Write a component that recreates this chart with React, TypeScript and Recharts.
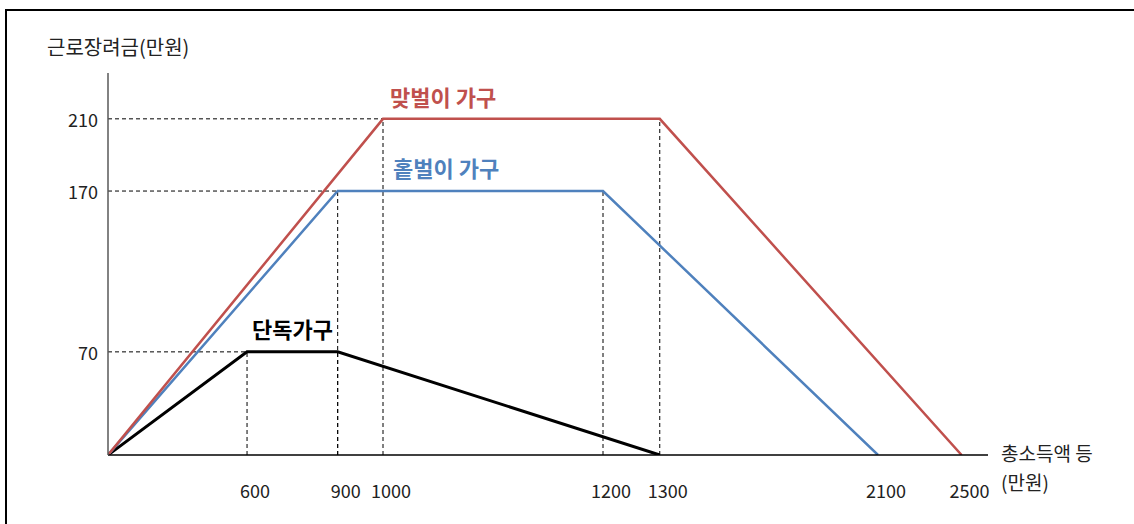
import React from 'react';
import { LineChart, Line, XAxis, YAxis, ReferenceLine } from 'recharts';

// 총소득액 (만원) / 근로장려금 (만원) for each household type
const singleIncome = [0, 600, 900, 1300];
const singleCredit = [0, 70, 70, 0];
const oneEarnerIncome = [0, 900, 1200, 2100];
const oneEarnerCredit = [0, 170, 170, 0];
const dualIncome = [0, 1000, 1300, 2500];
const dualCredit = [0, 210, 210, 0];

const xTicks = [600, 900, 1000, 1200, 1300, 2100, 2500];
const yTicks = [70, 170, 210];

// the original axes are schematic (not to scale): piecewise breaks
const xBreaks = [0, 600, 900, 1000, 1200, 1300, 2100, 2500, 2600];
const xBreakFrac = [0, 0.158, 0.261, 0.3125, 0.5625, 0.627, 0.875, 0.97, 1];
const yBreaks = [0, 70, 170, 210, 240];
const yBreakFrac = [0, 0.27, 0.691, 0.88, 1];

const FONT = '"Noto Sans CJK KR", "Noto Sans", sans-serif';
const RED = '#C0504D';
const BLUE = '#4F81BD';

function warpScale(breaks: number[], fracs: number[]) {
  const create = (domain: number[], range: number[]) => {
    const s: any = (v: number) => {
      let f = 0;
      if (v <= breaks[0]) f = fracs[0];
      else if (v >= breaks[breaks.length - 1]) f = fracs[fracs.length - 1];
      else {
        for (let i = 0; i < breaks.length - 1; i++) {
          if (v >= breaks[i] && v <= breaks[i + 1]) {
            f = fracs[i] + ((v - breaks[i]) / (breaks[i + 1] - breaks[i])) * (fracs[i + 1] - fracs[i]);
            break;
          }
        }
      }
      return range[0] + f * (range[1] - range[0]);
    };
    s.domain = (d?: number[]) => {
      if (d === undefined) return domain.slice();
      domain = d.slice();
      return s;
    };
    s.range = (r?: number[]) => {
      if (r === undefined) return range.slice();
      range = r.slice();
      return s;
    };
    s.copy = () => create(domain.slice(), range.slice());
    s.ticks = () => breaks.slice();
    s.tickFormat = () => (v: number) => String(v);
    return s;
  };
  return create([breaks[0], breaks[breaks.length - 1]], [0, 1]);
}

const toPoints = (xs: number[], ys: number[]) => xs.map((x, i) => ({ x, y: ys[i] }));

const series = [
  { name: '단독가구', data: toPoints(singleIncome, singleCredit), color: '#000000', width: 3 },
  { name: '홑벌이 가구', data: toPoints(oneEarnerIncome, oneEarnerCredit), color: BLUE, width: 2.5 },
  { name: '맞벌이 가구', data: toPoints(dualIncome, dualCredit), color: RED, width: 2.5 },
];

const XTick = (props: any) => (
  <text x={props.x + 8} y={props.y + 35} textAnchor="middle" dominantBaseline="central"
    fontSize={18} fill="#222" fontFamily={FONT}>
    {props.payload.value}
  </text>
);

const YTick = (props: any) => (
  <text x={props.x - 10} y={props.y} textAnchor="end" dominantBaseline="central"
    fontSize={18} fill="#222" fontFamily={FONT}>
    {props.payload.value}
  </text>
);

const label = (text: string, left: number, cy: number, size: number, color: string, bold = false) => (
  <div style={{
    position: 'absolute', left, top: cy - size / 2, fontSize: size, lineHeight: 1,
    fontFamily: FONT, color, fontWeight: bold ? 700 : 400, whiteSpace: 'nowrap',
  }}>
    {text}
  </div>
);

export default function App() {
  const xScale = warpScale(xBreaks, xBreakFrac);
  const yScale = warpScale(yBreaks, yBreakFrac);

  // dashed guides from every plateau corner
  const guides: any[] = [];
  series.forEach((s) => {
    const a = s.data[1];
    const b = s.data[2];
    guides.push([{ x: 0, y: a.y }, { x: a.x, y: a.y }]);
    guides.push([{ x: a.x, y: 0 }, { x: a.x, y: a.y }]);
    guides.push([{ x: b.x, y: 0 }, { x: b.x, y: b.y }]);
  });

  return (
    <div style={{ position: 'absolute', left: 0, top: 0, width: 1134, height: 524, overflow: 'hidden', background: '#fff' }}>
      <div style={{ position: 'absolute', left: 5, top: 9, width: 1200, height: 600, border: '2px solid #000', boxSizing: 'border-box' }} />
      <LineChart width={1134} height={524} margin={{ top: 73, right: 146, bottom: 29, left: 48 }}>
        <XAxis
          type="number"
          dataKey="x"
          domain={[0, 2600]}
          scale={xScale}
          ticks={xTicks}
          interval={0}
          tickLine={false}
          tickSize={0}
          tickMargin={0}
          height={40}
          axisLine={{ stroke: '#000', strokeWidth: 1.5 }}
          tick={XTick}
          allowDataOverflow
        />
        <YAxis
          type="number"
          dataKey="y"
          domain={[0, 240]}
          scale={yScale}
          ticks={yTicks}
          interval={0}
          tickLine={false}
          tickSize={0}
          tickMargin={0}
          width={60}
          axisLine={{ stroke: '#595959', strokeWidth: 1.5 }}
          tick={YTick}
          allowDataOverflow
        />
        {guides.map((seg, i) => (
          <ReferenceLine key={i} segment={seg} stroke="#000" strokeWidth={1} strokeDasharray="4 3" ifOverflow="visible" />
        ))}
        {series.map((s) => (
          <Line
            key={s.name}
            data={s.data}
            dataKey="y"
            type="linear"
            stroke={s.color}
            strokeWidth={s.width}
            dot={false}
            isAnimationActive={false}
          />
        ))}
      </LineChart>
      {label('근로장려금(만원)', 47, 47, 20, '#222')}
      {label('맞벌이 가구', 390, 96, 22, RED, true)}
      {label('홑벌이 가구', 393, 167, 22, BLUE, true)}
      {label('단독가구', 252, 328, 22, '#000', true)}
      {label('총소득액 등', 1001, 452, 19, '#222')}
      {label('(만원)', 1001, 481, 19, '#222')}
    </div>
  );
}
